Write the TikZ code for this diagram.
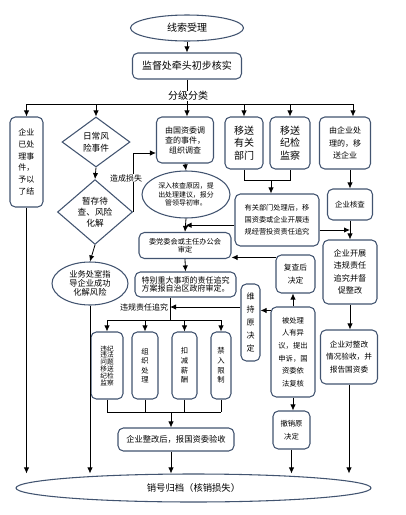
\documentclass[tikz,border=0pt]{standalone}
\usepackage{fontspec}
\setmainfont{Noto Sans CJK SC}
\usetikzlibrary{shapes.geometric,arrows.meta,calc}
\definecolor{bdr}{RGB}{66,84,112}

\begin{document}
\begin{tikzpicture}[x=0.75pt,y=0.75pt,yscale=-1,xscale=1,
  box/.style={draw=bdr,line width=0.8pt,rounded corners=4pt,fill=white,align=center,inner sep=0pt},
  ell/.style={draw=bdr,line width=0.8pt,ellipse,fill=white,align=center,inner sep=0pt},
  dia/.style={draw=bdr,line width=0.8pt,diamond,fill=white,align=center,inner sep=0pt},
  ln/.style={line width=0.6pt},
  arr/.style={line width=0.6pt,-{Latex[length=4.5pt,width=4pt]}},
  lbl/.style={fill=white,inner sep=0.5pt},
  fs/.style 2 args={font=\fontsize{#1}{#2}\selectfont}]
\useasboundingbox (0,0) rectangle (406,515);

%Shape: Ellipse
\node[ell,fs={7.5}{9},minimum width=84.75pt,minimum height=19.5pt] (xs) at (187,28) {线索受理};
%Shape: Rectangle
\node[box,fs={7.5}{9},minimum width=81.75pt,minimum height=19.5pt] (hs) at (187,66) {监督处牵头初步核实};

%Shape: Rectangle
\node[box,fs={6}{8.8},minimum width=24.75pt,minimum height=67.5pt] (qy) at (26.5,162) {企业\\已处\\理事\\件，\\予以\\了结};
%Shape: Diamond
\node[dia,fs={6.5}{8.8},minimum width=51pt,minimum height=37.5pt] (rc) at (96,142) {日常风\\险事件};
\node[dia,fs={6.5}{8.3},minimum width=56.25pt,minimum height=45pt] (zc) at (95,212) {暂存待\\查、风险\\化解};
%Shape: Ellipse
\node[ell,fs={6.2}{6.6},minimum width=57pt,minimum height=32.25pt] (yw) at (90,283.5) {业务处室指\\导企业成功\\化解风险};

%Shape: Rectangle
\node[box,fs={6}{7.5},minimum width=42.75pt,minimum height=34.5pt] (gz) at (185,140) {由国资委调\\查的事件，\\组织调查};
%Shape: Ellipse
\node[ell,fs={5.2}{6.6},minimum width=66pt,minimum height=35.25pt] (sr) at (186,194.5) {深入核查原因，提\\出处理建议，报分\\管领导初审。};
%Shape: Rectangle
\node[box,fs={5.4}{6.3},minimum width=69pt,minimum height=19.5pt] (wdw) at (185,245.5) {委党委会或主任办公会\\审定};
\node[box,fs={6}{6.3},minimum width=75.75pt,minimum height=18.75pt] (tb) at (185.5,284.5) {特别重大事项的责任追究\\方案报自治区政府审定。};

%Shape: Rectangle
\node[box,fs={5}{5.1},minimum width=24pt,minimum height=50.25pt] (wj) at (107,365.5) {违纪\\违法\\问题\\移送\\纪检\\监察};
\node[box,fs={5.5}{7.2},minimum width=19.5pt,minimum height=50.25pt] (zz) at (145,365.5) {组\\织\\处\\理};
\node[box,fs={5.5}{7.2},minimum width=18.75pt,minimum height=50.25pt] (kj) at (184.5,365.5) {扣\\减\\薪\\酬};
\node[box,fs={5.5}{7.2},minimum width=15pt,minimum height=50.25pt] (jr) at (221,365.5) {禁\\入\\限\\制};
\node[box,fs={6.2}{7},minimum width=87pt,minimum height=17.25pt] (zg) at (176,439.5) {企业整改后，报国资委验收};

%Shape: Rectangle
\node[box,fs={7.5}{9.4},minimum width=28.5pt,minimum height=39pt] (ygbm) at (244,143) {移送\\有关\\部门};
\node[box,fs={7.5}{9.4},minimum width=30pt,minimum height=39pt] (yjj) at (290,143) {移送\\纪检\\监察};
\node[box,fs={6}{9.4},minimum width=38.25pt,minimum height=39pt] (yqy) at (345,143) {由企业处\\理的，移\\送企业};
\node[box,fs={5.4}{9},minimum width=63pt,minimum height=39pt] (ygcl) at (277,220) {有关部门处理后，移\\国资委或企业开展违\\规经营投资责任追究};
\node[box,fs={5.6}{7},minimum width=33.75pt,minimum height=23.25pt] (qyhc) at (350,204.5) {企业核查};
\node[box,fs={6.1}{9.4},minimum width=40.5pt,minimum height=48pt] (qykz) at (350,272) {企业开展\\违规责任\\追究并督\\促整改};
\node[box,fs={5.75}{9.4},minimum width=42.75pt,minimum height=40.5pt] (qydz) at (349,357) {企业对整改\\情况验收，并\\报告国资委};

%Shape: Rectangle
\node[box,fs={5.8}{9.5},minimum width=29.25pt,minimum height=28.5pt] (fch) at (295.5,274) {复查后\\决定};
\node[box,fs={5.5}{9.5},minimum width=33pt,minimum height=67.5pt] (bcl) at (293,352) {被处理\\人有异\\议，提出\\申诉，国\\资委依\\法复核};
\node[box,fs={6}{9.7},minimum width=14.25pt,minimum height=57.75pt] (wc) at (250.5,322.5) {维\\持\\原\\决\\定};
\node[box,fs={5.5}{9.5},minimum width=27.75pt,minimum height=28.5pt] (cx) at (291.5,430) {撤销原\\决定};

%Shape: Ellipse
\node[ell,fs={7}{9},minimum width=266.25pt,minimum height=21pt] (xh) at (193.5,488) {销号归档（核销损失）};

%Straight Lines
\draw[arr] (xs.south) -- (hs.north);
\coordinate (br) at (187,104);
\coordinate (brL) at (26.5,104);
\coordinate (brR) at (353,104);
\draw[ln] (hs.south) -- (br);
\draw[ln] (brL) -- (brR);
\draw[arr] (brL) -- (qy.north);
\draw[arr] (brL -| rc.north) -- (rc.north);
\draw[arr] (br) -- (br |- gz.north);
\draw[arr] (br -| ygbm.north) -- (ygbm.north);
\draw[arr] (br -| yjj.north) -- (yjj.north);
\draw[arr] (brR) -- (brR |- yqy.north);
% Text Node
\node[lbl,fs={7.5}{9}] (fjfl) at (188,96) {分级分类};

%Straight Lines
\draw[arr] (rc.south) -- (zc.north);
\draw[arr] (zc.south) -- (yw.north);
\coordinate (g1) at ($(gz.west)+(0,13)$);
\draw[arr] (zc.east) |- (g1);
% Text Node
\node[lbl,fs={6}{7}] (zcss) at (126,178) {造成损失};

%Straight Lines
\draw[arr] (gz.south) -- (sr.north);
\draw[arr] (sr.south) -- (wdw.north);
\coordinate (m1) at ($(sr.south)!0.5!(wdw.north)$);
\draw[arr] (m1 -| ygcl.west) -- (m1);
\coordinate (f1) at ($(fch.north west)+(1,3)$);
\draw[arr] (f1) -- (f1 -| wdw.east);
\draw[arr] (wdw.south) -- (tb.north);

%Straight Lines
\coordinate (bb) at (170,320);
\coordinate (wz) at (170,307);
\draw[ln] (bb |- tb.south) -- (bb);
\draw[ln] (bb -| wj) -- (bb -| jr);
\draw[arr] (bb -| wj) -- (wj.north);
\draw[arr] (bb -| zz) -- (zz.north);
\draw[arr] (bb -| kj) -- (kj.north);
\draw[arr] (bb -| jr) -- (jr.north);
\draw[arr] (wz -| wc.west) -- (wz);
% Text Node
\node[anchor=east,inner sep=0.5pt,fs={6}{7}] (wgzj) at ($(wz)+(-1,0)$) {违规责任追究};

%Straight Lines
\coordinate (jb) at (171,412);
\draw[ln] (wj.south) -- (wj.south |- jb);
\draw[ln] (zz.south) -- (zz.south |- jb);
\draw[ln] (kj.south) -- (kj.south |- jb);
\draw[ln] (jr.south) -- (jr.south |- jb);
\draw[ln] (jb -| wj) -- (jb -| jr);
\draw[arr] (jb) -- (jb |- zg.north);
\draw[arr] (jb |- zg.south) -- (jb |- xh.north);

%Straight Lines
\coordinate (j2) at (271,180);
\draw[ln] (ygbm.south) -- (ygbm.south |- j2) -- (yjj.south |- j2) -- (yjj.south);
\draw[arr] (j2) -- (j2 |- ygcl.north);
\draw[arr] (qyhc.north |- yqy.south) -- (qyhc.north);
\draw[arr] (qyhc.south) -- (qykz.north);
\coordinate (m2) at ($(qyhc.south)!0.5!(qykz.north)$);
\draw[arr] (m2 -| ygcl.east) -- (m2);
\draw[arr] (qykz.south) -- (qykz.south |- qydz.north);

%Straight Lines
\draw[arr] (bcl.north) -- (bcl.north |- fch.south);
\coordinate (b1) at ($(bcl.north west)+(1,4)$);
\draw[arr] (b1) -- (b1 -| wc.east);
\draw[arr] (bcl.south) -- (bcl.south |- cx.north);

%Straight Lines
\draw[arr] (qy.south) -- (qy.south |- xh.north);
\draw[arr] (yw.south) -- (yw.south |- xh.north);
\draw[arr] (cx.south) -- (cx.south |- xh.north);
\draw[arr] (qydz.south) -- (qydz.south |- xh.north);
\end{tikzpicture}
\end{document}
